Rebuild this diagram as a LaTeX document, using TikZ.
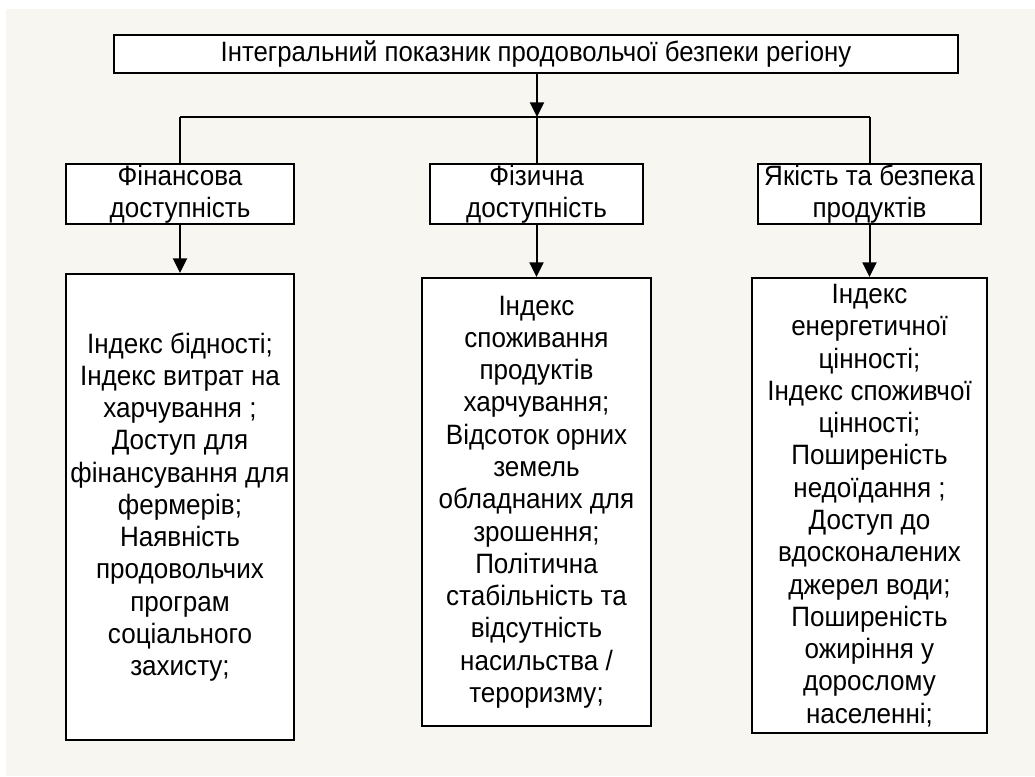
\documentclass[tikz,border=0pt]{standalone}
\usepackage{fontspec}
\setmainfont{Liberation Sans}
\newfontfamily\boxfont[FakeStretch=0.93]{Liberation Sans}
\newfontfamily\topfont[FakeStretch=0.92]{Liberation Sans}
\usetikzlibrary{arrows.meta}
\definecolor{cream}{RGB}{248,246,240}
\tikzset{
  box/.style={draw=black, line width=1.5pt, fill=white, inner sep=0pt, align=center,
    font=\boxfont\fontsize{21}{24.2}\selectfont},
  link/.style={line width=1.5pt},
  arr/.style={line width=1.5pt, -{Triangle[width=10.5pt,length=11pt]}}
}
\begin{document}
\begin{tikzpicture}[x=0.75pt,y=-0.75pt]
\useasboundingbox (0,0) rectangle (1035,776);
\fill[white] (0,0) rectangle (1035,776);
\fill[cream] (6,9) rectangle (1035,776);

\node[box, minimum width=633pt, minimum height=28.5pt,
  font=\topfont\fontsize{21}{24.2}\selectfont] (top) at (536,54)
  {Інтегральний показник продовольчої безпеки регіону};

\node[box, minimum width=171pt, minimum height=45pt] (fin) at (180,194)
  {Фінансова\\доступність};
\node[box, minimum width=159.75pt, minimum height=45pt] (fiz) at (536.5,194)
  {Фізична\\доступність};
\node[box, minimum width=167.25pt, minimum height=45pt] (yak) at (869.5,194)
  {Якість та безпека\\продуктів};

\node[box, minimum width=171pt, minimum height=349.5pt] (finL) at (180,507)
  {Індекс бідності;\\Індекс витрат на\\харчування ;\\Доступ для\\фінансування для\\фермерів;\\Наявність\\продовольчих\\програм\\соціального\\захисту;};
\node[box, minimum width=171.75pt, minimum height=336pt] (fizL) at (536.5,502)
  {Індекс\\споживання\\продуктів\\харчування;\\Відсоток орних\\земель\\обладнаних для\\зрошення;\\Політична\\стабільність та\\відсутність\\насильства /\\тероризму;};
\node[box, minimum width=176.25pt, minimum height=341.25pt] (yakL) at (869.5,505.5)
  {Індекс\\енергетичної\\цінності;\\Індекс споживчої\\цінності;\\Поширеність\\недоїдання ;\\Доступ до\\вдосконалених\\джерел води;\\Поширеність\\ожиріння у\\дорослому\\населенні;};

\coordinate (jm) at (537,117);
\coordinate (jl) at (180,117);
\coordinate (jr) at (869.5,117);

\draw[arr] (top.south -| jm) -- (jm);
\draw[link] (jl) -- (jr);
\draw[link] (jl) -- (fin.north);
\draw[link] (jm) -- (fiz.north -| jm);
\draw[link] (jr) -- (yak.north);

\draw[arr] (fin.south) -- (finL.north);
\draw[arr] (fiz.south) -- (fizL.north);
\draw[arr] (yak.south) -- (yakL.north);
\end{tikzpicture}
\end{document}
